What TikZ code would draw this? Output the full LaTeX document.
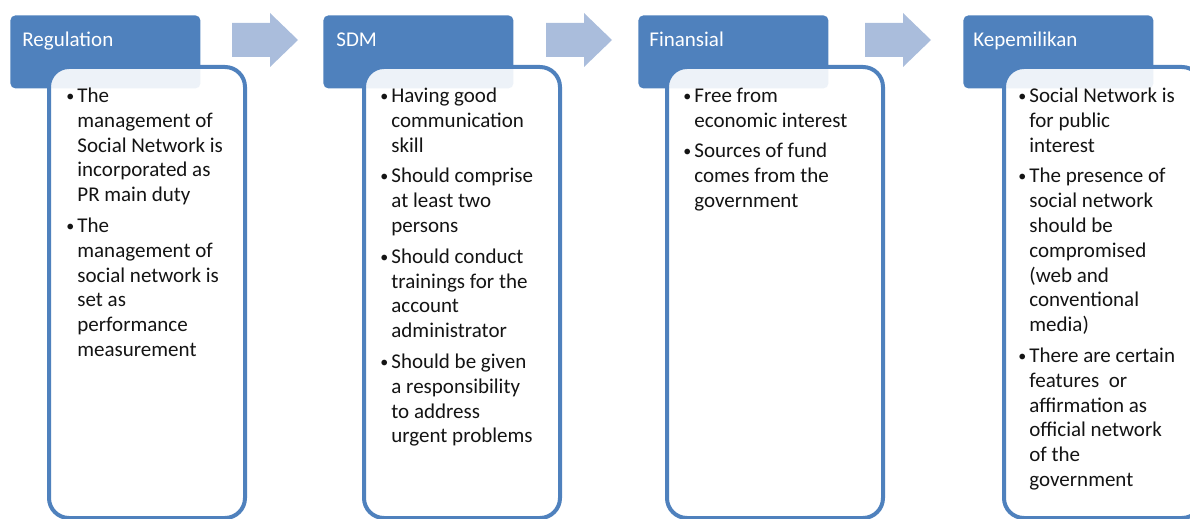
\documentclass[tikz,border=0pt]{standalone}
\usepackage{fontspec}
\setmainfont{Carlito}
\newlength{\du}
\setlength{\du}{0.5pt}
\definecolor{headcolor}{rgb}{0.310000, 0.506000, 0.741000}
\definecolor{arrowcolor}{rgb}{0.667000, 0.741000, 0.863000}
\definecolor{itemcolor}{rgb}{0.080000, 0.080000, 0.080000}
\tikzset{
  headbox/.style={fill=headcolor, rounded corners=5\du, anchor=north west,
    minimum width=190\du, minimum height=73\du, inner sep=0pt},
  bodybox/.style={draw=headcolor, line width=4\du, fill=white, fill opacity=0.9,
    rounded corners=20\du, anchor=north west, minimum height=451\du, inner sep=0pt},
  headtext/.style={anchor=base west, inner sep=0pt, text=white,
    font=\fontsize{10.5}{12.4}\selectfont},
  itemtext/.style={anchor=north west, inner sep=0pt, align=left, text=itemcolor,
    font=\fontsize{10.5}{12.4}\selectfont},
  flowarrow/.style={fill=arrowcolor}
}
\newcommand{\bul}{\rule{0pt}{9pt}\llap{\raisebox{0.6pt}{\fontsize{8}{8}\selectfont\textbullet}\hspace{1.5pt}}}

\begin{document}
\begin{tikzpicture}
\pgftransformxscale{1.000000}
\pgftransformyscale{-1.000000}
\useasboundingbox (0\du,0\du) rectangle (1190\du,519\du);
\clip (0\du,0\du) rectangle (1190\du,519\du);
% arrows
\fill[flowarrow] (232\du,23\du)--(270\du,23\du)--(270\du,13\du)--(298\du,40\du)--(270\du,67\du)--(270\du,57\du)--(232\du,57\du)--cycle;
\fill[flowarrow] (546\du,23\du)--(584\du,23\du)--(584\du,13\du)--(612\du,40\du)--(584\du,67\du)--(584\du,57\du)--(546\du,57\du)--cycle;
\fill[flowarrow] (865\du,23\du)--(903\du,23\du)--(903\du,13\du)--(931\du,40\du)--(903\du,67\du)--(903\du,57\du)--(865\du,57\du)--cycle;
% headers
\node[headbox] (hreg) at (10\du,15\du) {};
\node[headtext] (treg) at (22\du,47\du) {Regulation};
\node[headbox] (hsdm) at (323\du,15\du) {};
\node[headtext] (tsdm) at (336\du,47\du) {SDM};
\node[headbox] (hfin) at (638\du,15\du) {};
\node[headtext] (tfin) at (649\du,47\du) {Finansial};
\node[headbox] (hkep) at (963\du,15\du) {};
\node[headtext] (tkep) at (973\du,47\du) {Kepemilikan};
% bodies
\node[bodybox, minimum width=196\du] (breg) at (47\du,65\du) {};
\node[bodybox, minimum width=196\du] (bsdm) at (362\du,65\du) {};
\node[bodybox, minimum width=216\du] (bfin) at (665\du,65\du) {};
\node[bodybox, minimum width=198\du] (bkep) at (1002\du,65\du) {};
% bullet texts
\node[itemtext] (ireg) at (77\du,84\du) {\bul The\\management of\\Social Network is\\incorporated as\\PR main duty\\[3pt]
\bul The\\management of\\social network is\\set as\\performance\\measurement};
\node[itemtext] (isdm) at (391\du,84\du) {\bul Having good\\communication\\skill\\[3pt]
\bul Should comprise\\at least two\\persons\\[3pt]
\bul Should conduct\\trainings for the\\account\\administrator\\[3pt]
\bul Should be given\\a responsibility\\to address\\urgent problems};
\node[itemtext] (ifin) at (694\du,84\du) {\bul Free from\\economic interest\\[3pt]
\bul Sources of fund\\comes from the\\government};
\node[itemtext] (ikep) at (1029\du,84\du) {\bul Social Network is\\for public\\interest\\[3pt]
\bul The presence of\\social network\\should be\\compromised\\(web and\\conventional\\media)\\[3pt]
\bul There are certain\\features\ \ or\\affirmation as\\official network\\of the\\government};
\end{tikzpicture}
\end{document}
